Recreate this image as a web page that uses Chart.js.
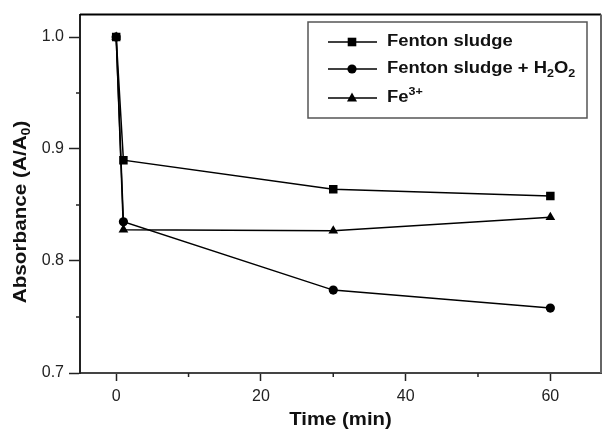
<!DOCTYPE html>
<html>
<head>
<meta charset="utf-8">
<script src="https://cdn.jsdelivr.net/npm/chart.js@4"></script>
<style>
  html, body { margin: 0; padding: 0; background: #fff; }
  #chart { display: block; }
</style>
</head>
<body>
<canvas id="chart" width="607" height="433"></canvas>
<script>
// data
const times = [0, 1, 30, 60]
const sludge = [1.0, 0.89, 0.864, 0.858]
const sludgeH2O2 = [1.0, 0.835, 0.774, 0.758]
const fe3 = [1.0, 0.828, 0.827, 0.839]
const xTicks = [0, 20, 40, 60]
const xMinor = [10, 30, 50]
const yTicks = [0.7, 0.8, 0.9, 1.0]
const yMinor = [0.75, 0.85, 0.95]

const FONT = 'Arial, "Liberation Sans", Helvetica, sans-serif'

function toPoints(ys) {
  return ys.map((y, i) => ({ x: times[i], y: y }))
}

// text with sub / superscripts, optionally stretched horizontally
function richWidth(ctx, parts, size) {
  let w = 0
  parts.forEach(([t, kind]) => {
    ctx.font = 'bold ' + (kind ? size * 0.68 : size) + 'px ' + FONT
    w += ctx.measureText(t).width
  })
  return w
}

function drawRich(ctx, parts, x, y, size, sx) {
  ctx.save()
  ctx.translate(x, y)
  ctx.scale(sx, 1)
  ctx.textBaseline = 'middle'
  ctx.textAlign = 'left'
  let cx = 0
  parts.forEach(([t, kind]) => {
    let s = kind ? size * 0.68 : size
    ctx.font = 'bold ' + s + 'px ' + FONT
    let dy = kind === 'sub' ? size * 0.3 : kind === 'sup' ? -size * 0.38 : 0
    ctx.fillText(t, cx, dy)
    cx += ctx.measureText(t).width
  })
  ctx.restore()
}

function marker(ctx, style, x, y) {
  ctx.beginPath()
  if (style === 'rect') {
    ctx.rect(x - 4.3, y - 4.3, 8.6, 8.6)
  } else if (style === 'circle') {
    ctx.arc(x, y, 4.6, 0, Math.PI * 2)
  } else {
    ctx.moveTo(x, y - 5.4)
    ctx.lineTo(x + 5, y + 3.6)
    ctx.lineTo(x - 5, y + 3.6)
    ctx.closePath()
  }
  ctx.fill()
}

const legendRows = [
  { style: 'rect', parts: [['Fenton sludge', '']] },
  { style: 'circle', parts: [['Fenton sludge + H', ''], ['2', 'sub'], ['O', ''], ['2', 'sub']] },
  { style: 'triangle', parts: [['Fe', ''], ['3+', 'sup']] },
]

const decorations = {
  id: 'decorations',
  afterDraw(chart) {
    const { ctx, chartArea: a, scales } = chart
    ctx.save()
    // frame top / right
    ctx.strokeStyle = '#000'
    ctx.lineWidth = 2
    ctx.beginPath()
    ctx.moveTo(a.left, a.top)
    ctx.lineTo(a.right, a.top)
    ctx.stroke()
    ctx.strokeStyle = '#666'
    ctx.beginPath()
    ctx.moveTo(a.right, a.top)
    ctx.lineTo(a.right, a.bottom)
    ctx.stroke()

    // minor ticks
    ctx.strokeStyle = '#222'
    ctx.lineWidth = 1.5
    xMinor.forEach(v => {
      let px = scales.x.getPixelForValue(v)
      ctx.beginPath()
      ctx.moveTo(px, a.bottom)
      ctx.lineTo(px, a.bottom + 4)
      ctx.stroke()
    })
    yMinor.forEach(v => {
      let py = scales.y.getPixelForValue(v)
      ctx.beginPath()
      ctx.moveTo(a.left - 4, py)
      ctx.lineTo(a.left, py)
      ctx.stroke()
    })

    // axis titles
    ctx.fillStyle = '#111'
    const xt = [['Time (min)', '']]
    const xw = richWidth(ctx, xt, 18) * 1.13
    drawRich(ctx, xt, (a.left + a.right) / 2 - xw / 2, 420, 18, 1.13)
    const yt = [['Absorbance (A/A', ''], ['0', 'sub'], [')', '']]
    const yw = richWidth(ctx, yt, 18) * 1.15
    ctx.save()
    ctx.translate(21, 212)
    ctx.rotate(-Math.PI / 2)
    drawRich(ctx, yt, -yw / 2, 0, 18, 1.15)
    ctx.restore()

    // legend box
    ctx.strokeStyle = '#555'
    ctx.lineWidth = 1.5
    ctx.strokeRect(308, 22, 279, 96)
    const rowY = [42, 69, 98]
    legendRows.forEach((row, i) => {
      let y = rowY[i]
      ctx.strokeStyle = '#000'
      ctx.lineWidth = 1.5
      ctx.beginPath()
      ctx.moveTo(328, y)
      ctx.lineTo(377, y)
      ctx.stroke()
      ctx.fillStyle = '#000'
      marker(ctx, row.style, 352, y)
      ctx.fillStyle = '#111'
      drawRich(ctx, row.parts, 387, y, 16, 1.15)
    })
    ctx.restore()
  },
}

const whiteBg = {
  id: 'whiteBg',
  beforeDraw(chart) {
    const { ctx, width, height } = chart
    ctx.save()
    ctx.fillStyle = '#fff'
    ctx.fillRect(0, 0, width, height)
    ctx.restore()
  },
}

function series(label, ys, style, radius) {
  return {
    label: label,
    data: toPoints(ys),
    borderColor: '#000',
    backgroundColor: '#000',
    borderWidth: 1.5,
    pointStyle: style,
    pointRadius: radius,
    pointBorderWidth: 0,
    tension: 0,
  }
}

new Chart(document.getElementById('chart').getContext('2d'), {
  type: 'line',
  data: {
    datasets: [
      series('Fenton sludge', sludge, 'rect', 6),
      series('Fenton sludge + H2O2', sludgeH2O2, 'circle', 4.6),
      series('Fe3+', fe3, 'triangle', 5.6),
    ],
  },
  options: {
    responsive: false,
    animation: false,
    devicePixelRatio: 1,
    layout: { padding: { top: 12, right: 1, left: 0, bottom: 0 } },
    plugins: {
      legend: { display: false },
      tooltip: { enabled: false },
    },
    scales: {
      x: {
        type: 'linear',
        min: -5,
        max: 67,
        afterBuildTicks: s => { s.ticks = xTicks.map(v => ({ value: v })) },
        afterFit: s => { s.height = 60 },
        grid: { drawOnChartArea: false, tickLength: 8, tickColor: '#222', tickWidth: 1.5 },
        border: { color: '#444', width: 2 },
        ticks: { color: '#222', padding: 6, font: { size: 16, family: FONT } },
      },
      y: {
        min: 0.7,
        max: 1.02,
        afterBuildTicks: s => { s.ticks = yTicks.map(v => ({ value: v })) },
        afterFit: s => { s.width = 80 },
        grid: { drawOnChartArea: false, tickLength: 11, tickColor: '#222', tickWidth: 1.5 },
        border: { color: '#222', width: 2 },
        ticks: {
          color: '#222',
          padding: 5,
          font: { size: 16, family: FONT },
          callback: v => v.toFixed(1),
        },
      },
    },
  },
  plugins: [whiteBg, decorations],
})
</script>
</body>
</html>
